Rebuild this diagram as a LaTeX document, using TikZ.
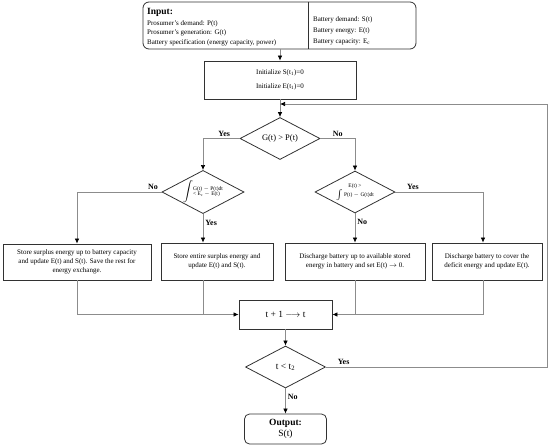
\documentclass[tikz,border=0pt]{standalone}
\usepackage{fontspec}
\setmainfont{Liberation Serif}
\usepackage{tikz}
\usetikzlibrary{arrows.meta,calc,positioning,shapes.geometric}
\definecolor{LineGray}{RGB}{140,140,140}
\definecolor{EdgeGray}{RGB}{50,50,50}

\begin{document}
\begin{tikzpicture}[x=1pt,y=-1pt,>={Latex[length=5pt,width=4.5pt,color=black]},
  box/.style={draw=EdgeGray,line width=.8pt,align=center,inner sep=2pt,
    font=\fontsize{7}{9}\selectfont},
  dec/.style={draw=EdgeGray,line width=.8pt,diamond,aspect=1.9,inner sep=0pt,
    minimum width=80pt,minimum height=42pt},
  lab/.style={font=\fontsize{8}{9}\selectfont\bfseries,text=black,inner sep=2pt},
  txt/.style={anchor=west,inner sep=0pt,font=\fontsize{7}{8}\selectfont},
  con/.style={LineGray,line width=.7pt}]
  \useasboundingbox (0,0) rectangle (550,448);
  \node[draw=EdgeGray,line width=.8pt,rounded corners=6pt,minimum width=273pt,
    minimum height=47pt] (input) at (279.5,25.5) {};
  \coordinate (div) at (308,0);
  \draw[EdgeGray,line width=.8pt] (input.north -| div) -- (input.south -| div);
  \node[txt,font=\fontsize{9.5}{10}\selectfont\bfseries] (head) at (147,12.5) {Input:};
  \foreach \s [count=\i] in {Prosumer's demand: P(t),Prosumer's generation: G(t),
      {Battery specification (energy capacity, power)}}
    \node[txt] (lft\i) at (147,14+9.5*\i) {\s};
  \foreach \s [count=\i] in {Battery demand: S(t),Battery energy: E(t),
      Battery capacity: E\textsubscript{c}}
    \node[txt] (rgt\i) at (313,9.5+10.7*\i) {\s};

  \node[box,minimum width=152pt,minimum height=38pt] (init) at (280,80)
    {Initialize S(t\textsubscript{1})=0\\[5pt]Initialize E(t\textsubscript{1})=0};
  \node[dec] (gp) at (280,138.5) {\fontsize{8.5}{9}\selectfont G(t) > P(t)};
  \node[dec] (surp) at (203,192) {\fontsize{5.5}{5.5}\selectfont
    $\displaystyle\int$\begin{tabular}{@{}l@{}}G(t) $-$ P(t)dt\\< E\textsubscript{c} $-$ E(t)\end{tabular}};
  \node[dec] (defi) at (355,192) {\fontsize{5.5}{6}\selectfont
    \begin{tabular}{@{}c@{}}E(t) >\\[1pt]$\int$ P(t) $-$ G(t)dt\end{tabular}};

  \node[box,minimum width=148pt,minimum height=36pt] (keep) at (77,262)
    {Store surplus energy up to battery capacity\\and update E(t) and S(t). Save the rest for\\energy exchange.};
  \node[box,minimum width=112pt,minimum height=37pt] (all) at (217,261.5)
    {Store entire surplus energy and\\update E(t) and S(t).};
  \node[box,minimum width=140pt,minimum height=37pt] (part) at (355,261.5)
    {Discharge battery up to available stored\\energy in battery and set E(t) $\rightarrow$ 0.};
  \node[box,minimum width=110pt,minimum height=37pt] (cover) at (487,261.5)
    {Discharge battery to cover the\\deficit energy and update E(t).};
  \coordinate (c4) at (483,0);

  \node[box,minimum width=93pt,minimum height=29pt,font=\fontsize{9.5}{10}\selectfont]
    (inc) at (285.5,314.5) {t + 1 $\longrightarrow$ t};
  \node[dec] (tt) at (285.5,367) {\fontsize{9.5}{10}\selectfont t < t\textsubscript{2}};
  \node[box,rounded corners=5pt,minimum width=82pt,minimum height=30pt,
    font=\fontsize{9.5}{11}\selectfont] (out) at (285.5,429) {\textbf{Output:}\\S(t)};
  \coordinate (back) at (547,104);

  \draw[con,->] (input.south -| init.north) -- (init.north);
  \draw[con,->] (init) -- (gp);
  \draw[con,->] (tt.east) -| node[lab,pos=.04,above]{Yes} (back) -- (back -| init.south);
  \draw[con,->] (gp.west) -| node[lab,pos=.21,above]{Yes} (surp.north);
  \draw[con,->] (gp.east) -| node[lab,pos=.25,above]{No} (defi.north);
  \draw[con,->] (surp.west) -| node[lab,pos=.05,above]{No} (keep.north);
  \draw[con,->] (surp.south) -- node[lab,pos=.3,right]{Yes} (surp.south |- all.north);
  \draw[con,->] (defi.south) -- node[lab,pos=.3,right]{No} (defi.south |- part.north);
  \draw[con,->] (defi.east) -| node[lab,pos=.1,above]{Yes} (c4 |- cover.north);
  \draw[con,->] (keep.south) |- (inc.west);
  \draw[con] (surp.south |- all.south) -- (surp.south |- inc.west);
  \draw[con,->] (c4 |- cover.south) |- (inc.east);
  \draw[con] (defi.south |- part.south) -- (defi.south |- inc.east);
  \draw[con,->] (inc) -- (tt);
  \draw[con,->] (tt) -- node[lab,pos=.35,right]{No} (out);
\end{tikzpicture}
\end{document}
